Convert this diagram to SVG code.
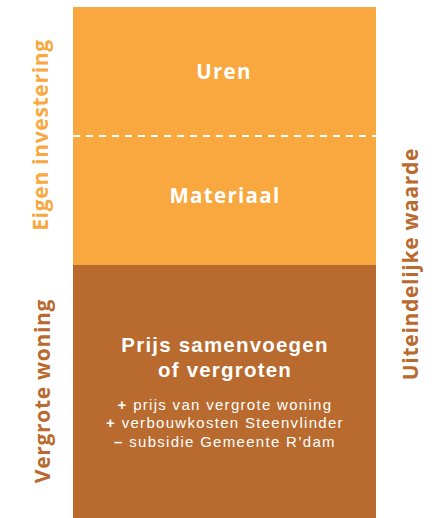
<svg xmlns="http://www.w3.org/2000/svg" width="439" height="518" viewBox="0 0 439 518">
<style>
.lbl{font-family:"Open Sans","Liberation Sans",sans-serif;font-weight:bold;text-anchor:middle}
.main{font-size:20.5px;letter-spacing:1.3px}
.ttl{font-family:"Liberation Sans",Arial,sans-serif;font-weight:bold;font-size:20.5px;letter-spacing:1.2px;text-anchor:middle}
.side{font-size:21px;letter-spacing:0.7px}
.w{fill:#ffffff}
.sub{font-family:"Liberation Sans",Arial,sans-serif;font-size:15px;letter-spacing:1.3px;fill:#ffffff;text-anchor:middle}
.lo{fill:#F9A83F}
.dk{fill:#B96A2E}
</style>
<rect width="439" height="518" fill="#ffffff"/>
<g id="uren">
<rect x="73" y="7" width="303" height="129" class="lo"/>
<text x="224" y="79" class="lbl main w">Uren</text>
</g>
<g id="materiaal">
<rect x="73" y="136" width="303" height="129" class="lo"/>
<text x="225" y="203" class="lbl main w">Materiaal</text>
</g>
<g id="prijs">
<rect x="73" y="265" width="303" height="253" class="dk"/>
<text class="ttl w"><tspan x="225" y="352">Prijs samenvoegen</tspan><tspan x="225" y="377">of vergroten</tspan></text>
<text class="sub"><tspan x="225" y="410"><tspan font-weight="bold">+</tspan> prijs van vergrote woning</tspan><tspan x="225" y="428.3"><tspan font-weight="bold">+</tspan> verbouwkosten Steenvlinder</tspan><tspan x="225" y="446.6"><tspan font-weight="bold">–</tspan> subsidie Gemeente R’dam</tspan></text>
</g>
<g id="connectors">
<line x1="73" y1="136" x2="376" y2="136" stroke="#ffffff" stroke-width="2" stroke-dasharray="7 6"/>
</g>
<g id="eigen">
<text transform="translate(48 135) rotate(-90)" class="lbl side lo">Eigen investering</text>
</g>
<g id="vergrote">
<text transform="translate(50 391) rotate(-90)" class="lbl side dk">Vergrote woning</text>
</g>
<g id="waarde">
<text transform="translate(418 264) rotate(-90)" class="lbl side dk">Uiteindelijke waarde</text>
</g>
</svg>
